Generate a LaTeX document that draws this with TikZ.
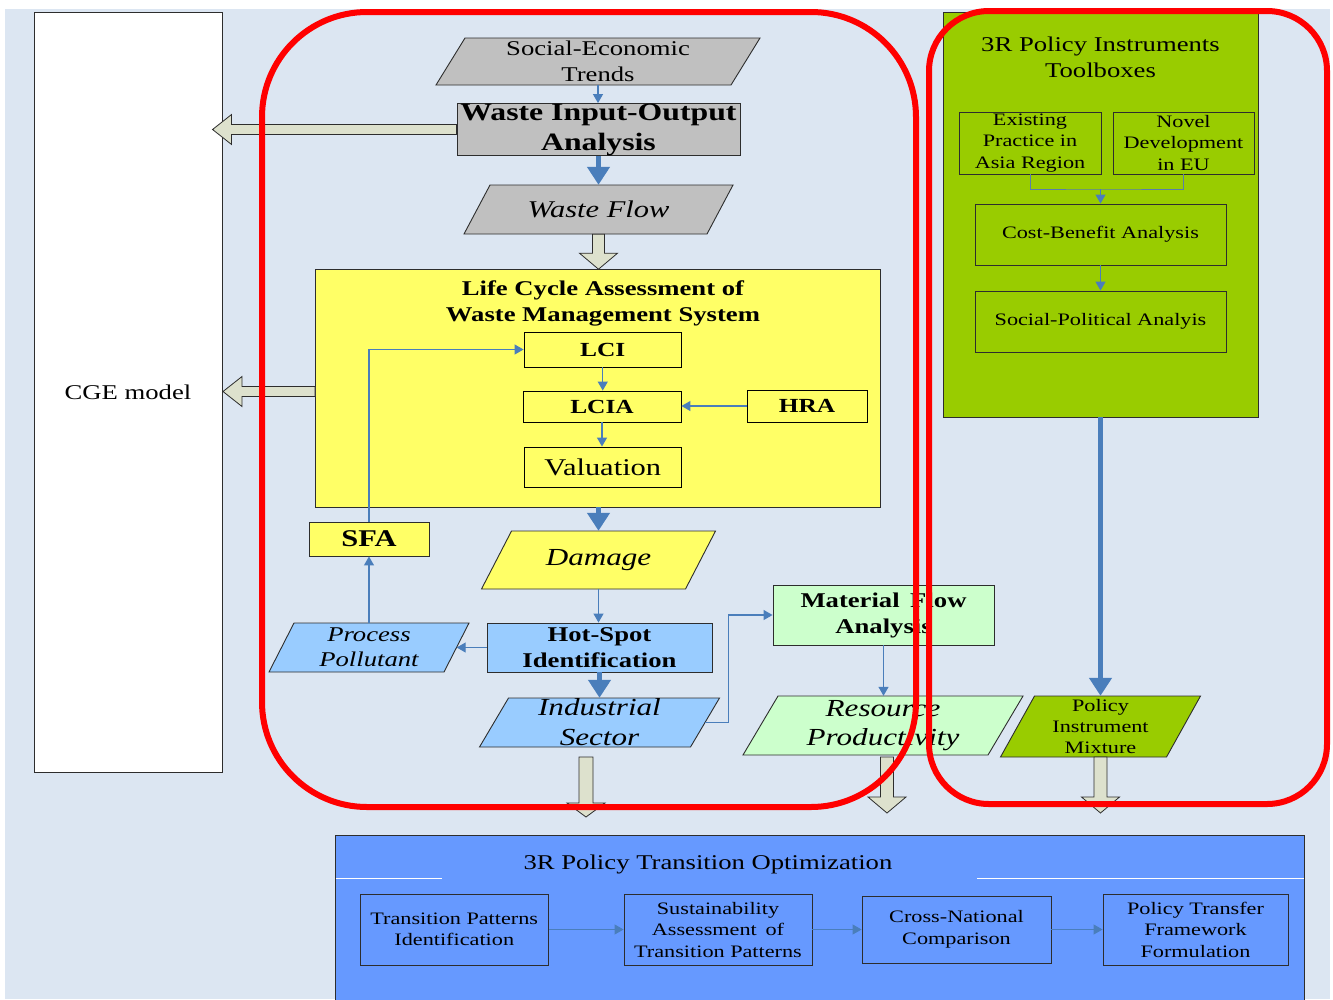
\documentclass[tikz,border=0pt]{standalone}
\usepackage{fontspec}
\setmainfont{Liberation Serif}[FakeStretch=1.27]
\usetikzlibrary{arrows.meta}

\definecolor{bgc}{RGB}{220,230,242}
\definecolor{ablue}{RGB}{74,126,187}
\definecolor{grayn}{RGB}{192,192,192}
\definecolor{yel}{RGB}{255,255,102}
\definecolor{lblue}{RGB}{153,204,255}
\definecolor{lgreen}{RGB}{204,255,204}
\definecolor{pgreen}{RGB}{153,204,0}
\definecolor{bbox}{RGB}{102,153,255}
\definecolor{harrow}{RGB}{221,225,205}
\definecolor{edge}{RGB}{45,45,45}

\newcommand\setfs[2]{\fontsize{#1pt}{#2pt}\selectfont}

\tikzset{
  box/.style={draw=edge, line width=0.9pt, inner sep=0pt, align=center},
  conn/.style={draw=ablue, line width=1.2pt, -{Triangle[length=9pt,width=10pt]}},
  bigconn/.style={draw=ablue, line width=5pt, -{Triangle[length=18pt,width=22pt]}},
  hollow/.style={fill=harrow, draw=edge, line width=0.8pt},
  redr/.style={draw=red, line width=6pt},
  regfont/.style={font=\setfs{21}{26}},
  smallfont/.style={font=\setfs{17.5}{21.5}},
}

% name, cx, cy, side width, height, slant offset, fill, font, text
\newcommand\pgram[9]{%
  \filldraw[fill=#7, draw=edge, line width=0.9pt] ({#2-#4/2-#6/2},{#3+#5/2}) -- ++(#4,0) -- ++(#6,-#5) -- ++(-#4,0) -- cycle;
  \node[inner sep=0pt, minimum width=#4pt, minimum height=#5pt, align=center, font={#8}] (#1) at (#2,#3) {#9};
}

\begin{document}
\begin{tikzpicture}[x=1pt,y=-1pt]
\useasboundingbox (0,0) rectangle (1333,999);
\fill[white] (0,0) rectangle (1333,999);
\fill[bgc] (5,9) rectangle (1330,999);

% CGE model
\node[box, fill=white, minimum width=188pt, minimum height=760pt, regfont] (cge) at (128,392) {CGE model};

% ---------- 3R toolbox (green) ----------
\node[box, fill=pgreen, minimum width=315pt, minimum height=405pt] (tb) at (1100.5,214.5) {};
\node[regfont, align=center, inner sep=0pt] (tbt) at (1100.5,57) {3R Policy Instruments\\Toolboxes};
\node[box, smallfont, minimum width=142pt, minimum height=62pt] (ep) at (1030,143) {Existing\\Practice in\\Asia Region};
\node[box, smallfont, minimum width=141pt, minimum height=62pt] (nd) at (1183.5,143) {Novel\\Development\\in EU};
\node[box, smallfont, minimum width=251pt, minimum height=61pt] (cba) at (1100.5,234.5) {Cost-Benefit Analysis};
\node[box, smallfont, minimum width=251pt, minimum height=61pt] (spa) at (1100.5,321.5) {Social-Political Analyis};
\coordinate (gj) at (1100.5,189);
\draw[draw=ablue!70!gray, line width=1pt] (ep.south) |- (gj) -| (nd.south);
\draw[conn] (gj) -- (cba.north);
\draw[conn] (cba.south) -- (spa.north);

% ---------- central chain ----------
\pgram{se}{598}{61.5}{295}{47}{29}{grayn}{\setfs{21}{26}}{Social-Economic\\Trends}
\node[box, fill=grayn, minimum width=283pt, minimum height=49pt, font=\setfs{25}{30}\bfseries] (wio) at (598.5,129.5) {Waste Input-Output\\Analysis};
\pgram{wf}{598.5}{209.5}{243}{49}{26}{grayn}{\setfs{24}{29}\itshape}{Waste Flow}

% LCA box
\node[box, fill=yel, minimum width=565.5pt, minimum height=238pt] (lca) at (597.75,388) {};
\node[inner sep=0pt, align=center, font=\setfs{21}{26}\bfseries] (lcat) at (603,303) {Life Cycle Assessment of\\Waste Management System};
\node[box, draw=black, minimum width=157.5pt, minimum height=35pt, font=\setfs{20}{24}\bfseries] (lci) at (602.75,349.5) {LCI};
\node[box, draw=black, minimum width=158pt, minimum height=31pt, font=\setfs{20}{24}\bfseries] (lcia) at (602,406.5) {LCIA};
\node[box, draw=black, minimum width=120pt, minimum height=32pt, font=\setfs{20}{24}\bfseries] (hra) at (807,406) {HRA};
\node[box, draw=black, minimum width=157.5pt, minimum height=40pt, font=\setfs{24}{28}] (val) at (602.75,467) {Valuation};

\node[box, fill=yel, minimum width=120pt, minimum height=34pt, font=\setfs{24}{28}\bfseries] (sfa) at (369,539) {SFA};
\pgram{dm}{598.5}{560}{204}{58}{30}{yel}{\setfs{24.5}{29}\itshape}{Damage}
\node[box, fill=lblue, minimum width=225pt, minimum height=49pt, font=\setfs{21}{26}\bfseries] (hs) at (599.5,647.5) {Hot-Spot\\Identification};
\pgram{pp}{369}{647.5}{175}{49}{25}{lblue}{\setfs{21}{25}\itshape}{Process\\Pollutant}
\pgram{is}{599.5}{722.5}{211}{49}{29}{lblue}{\setfs{24.5}{30}\itshape}{Industrial\\Sector}

\node[box, fill=lgreen, minimum width=221pt, minimum height=60pt, font=\setfs{21}{26}\bfseries] (mfa) at (883.5,615) {Material\enspace Flow\\Analysis};
\pgram{rp}{883}{725.5}{245}{59}{35}{lgreen}{\setfs{24.5}{29}\itshape}{Resource\\Productivity}
\pgram{pim}{1100.5}{726.5}{166}{61}{34}{pgreen}{\setfs{17.5}{21}}{Policy\\Instrument\\Mixture}

% connectors
\draw[conn] (se.south) -- (se.south |- wio.north);
\draw[bigconn] (wio.south) -- (wio.south |- wf.north);
\draw[conn] (lci.south) -- (lci.south |- lcia.north);
\draw[conn] (lcia.south) -- (lcia.south |- val.north);
\draw[conn] (hra.west) -- (hra.west -| lcia.east);
\draw[conn] (sfa.north) |- (lci.west);
\draw[bigconn] (lca.south -| dm.north) -- (dm.north);
\draw[conn] (dm.south) -- (dm.south |- hs.north);
\draw[conn] (hs.west) -- (pp.east);
\draw[conn] (pp.north) -- (sfa.south);
\draw[bigconn] (hs.south -| is.north) -- (is.north);
\draw[conn] (is.east) -- ++(23,0) |- (mfa.west);
\draw[conn] (mfa.south) -- (mfa.south |- rp.north);
\draw[bigconn] (tb.south) -- (tb.south |- pim.north);

% hollow block arrows
\filldraw[hollow] ([yshift=5pt]wio.west) -- ++(-225,0) -- ++(0,-10) -- ++(-19,15) -- ++(19,15) -- ++(0,-10) -- ++(225,0) -- cycle;
\coordinate (la) at (315,391.5);
\filldraw[hollow] (la) ++(0,-5) -- ++(-73,0) -- ++(0,-10) -- ++(-19,15) -- ++(19,15) -- ++(0,-10) -- ++(73,0) -- cycle;
\filldraw[hollow] (wf.south) ++(-6,0) -- ++(12,0) -- ++(0,19) -- ++(13,0) -- ++(-19,16) -- ++(-19,-16) -- ++(13,0) -- cycle;
\coordinate (ia) at (586,757);
\filldraw[hollow] (ia) ++(-7,0) -- ++(14,0) -- ++(0,46) -- ++(12,0) -- ++(-19,14) -- ++(-19,-14) -- ++(12,0) -- cycle;
\coordinate (ra) at (887,757);
\filldraw[hollow] (ra) ++(-6.5,0) -- ++(13,0) -- ++(0,40) -- ++(12.5,0) -- ++(-19,16) -- ++(-19,-16) -- ++(12.5,0) -- cycle;
\coordinate (pa) at (1100.5,757);
\filldraw[hollow] (pa) ++(-6.5,0) -- ++(13,0) -- ++(0,40) -- ++(12.5,0) -- ++(-19,16) -- ++(-19,-16) -- ++(12.5,0) -- cycle;

% ---------- bottom optimisation box ----------
\node[box, fill=bbox, minimum width=969pt, minimum height=180pt, anchor=north west] (opt) at (335,835) {};
\node[regfont, inner sep=0pt] (optt) at (708,864) {3R Policy Transition Optimization};
\draw[white, line width=1pt] (335.5,878) -- (442,878);
\draw[white, line width=1pt] (977,878) -- (1303.5,878);
\node[box, smallfont, minimum width=188.5pt, minimum height=71pt] (tpi) at (454.25,929.5) {Transition Patterns\\Identification};
\node[box, smallfont, minimum width=188pt, minimum height=71pt] (sat) at (718,929.5) {Sustainability\\Assessment\enspace of\\Transition Patterns};
\node[box, smallfont, minimum width=189pt, minimum height=67pt] (cnc) at (956.5,929.5) {Cross-National\\Comparison};
\node[box, smallfont, minimum width=185pt, minimum height=71pt] (ptf) at (1195.5,929.5) {Policy Transfer\\Framework\\Formulation};
\draw[conn, line width=1pt] (tpi.east) -- (sat.west);
\draw[conn, line width=1pt] (sat.east) -- (cnc.west);
\draw[conn, line width=1pt] (cnc.east) -- (ptf.west);

% ---------- red outlines ----------
\draw[redr, rounded corners=105pt] (262,12) rectangle (916,807);
\draw[redr, rounded corners=60pt] (929,11) rectangle (1327,804);
\end{tikzpicture}
\end{document}
